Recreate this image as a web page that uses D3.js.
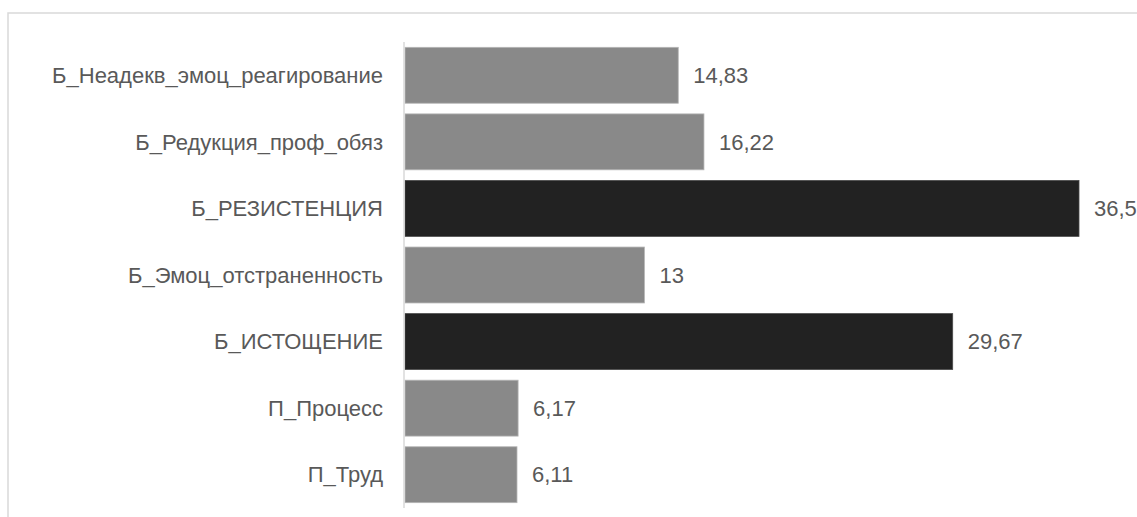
<!DOCTYPE html>
<html>
<head>
<meta charset="utf-8">
<script src="https://cdn.jsdelivr.net/npm/d3@7"></script>
<style>
  body { margin: 0; background: #fff; }
  svg { display: block; font-family: "Liberation Sans", Arial, sans-serif; }
</style>
</head>
<body>
<div id="chart"></div>
<script>
// categories, top to bottom
var categories = [
  "Б_Неадекв_эмоц_реагирование",
  "Б_Редукция_проф_обяз",
  "Б_РЕЗИСТЕНЦИЯ",
  "Б_Эмоц_отстраненность",
  "Б_ИСТОЩЕНИЕ",
  "П_Процесс",
  "П_Труд"
];
var values = [14.83, 16.22, 36.5, 13, 29.67, 6.17, 6.11];
var valueLabels = ["14,83", "16,22", "36,5", "13", "29,67", "6,17", "6,11"];
// which bars are highlighted (dark)
var highlighted = [false, false, true, false, true, false, false];

var width = 1137, height = 517;
var margin = { top: 42, left: 404, bottom: 9 };

var svg = d3.select("#chart").append("svg")
  .attr("width", width)
  .attr("height", height);

// outer frame
svg.append("rect")
  .attr("x", 8).attr("y", 13)
  .attr("width", width + 20).attr("height", height + 20)
  .attr("fill", "none")
  .attr("stroke", "#d9d9d9")
  .attr("stroke-width", 1.5);

var x = d3.scaleLinear()
  .domain([0, 36.5])
  .range([margin.left, 1079]);

var y = d3.scaleBand()
  .domain(categories)
  .range([margin.top, height - margin.bottom])
  .paddingInner(0.16)
  .paddingOuter(0.08);

// bars
svg.selectAll("rect.bar")
  .data(values)
  .enter()
  .append("rect")
  .attr("class", "bar")
  .attr("x", x(0) + 1)
  .attr("y", function (d, i) { return y(categories[i]); })
  .attr("width", function (d) { return x(d) - x(0) - 1; })
  .attr("height", y.bandwidth())
  .attr("fill", function (d, i) { return highlighted[i] ? "#222222" : "#898989"; })
  .attr("stroke", function (d, i) { return highlighted[i] ? "#4a4a4a" : "#b5b5b5"; })
  .attr("stroke-width", 0.8);

// vertical axis line
svg.append("line")
  .attr("x1", x(0)).attr("x2", x(0))
  .attr("y1", margin.top).attr("y2", height - margin.bottom)
  .attr("stroke", "#d9d9d9")
  .attr("stroke-width", 1.5);

// category labels
svg.selectAll("text.cat")
  .data(categories)
  .enter()
  .append("text")
  .attr("class", "cat")
  .attr("x", 383)
  .attr("y", function (d) { return y(d) + y.bandwidth() / 2; })
  .attr("dy", "0.35em")
  .attr("text-anchor", "end")
  .attr("font-size", 22)
  .attr("fill", "#595959")
  .text(function (d) { return d; });

// value labels
svg.selectAll("text.val")
  .data(values)
  .enter()
  .append("text")
  .attr("class", "val")
  .attr("x", function (d) { return x(d) + 15; })
  .attr("y", function (d, i) { return y(categories[i]) + y.bandwidth() / 2; })
  .attr("dy", "0.35em")
  .attr("font-size", 22)
  .attr("fill", "#595959")
  .text(function (d, i) { return valueLabels[i]; });
</script>
</body>
</html>
